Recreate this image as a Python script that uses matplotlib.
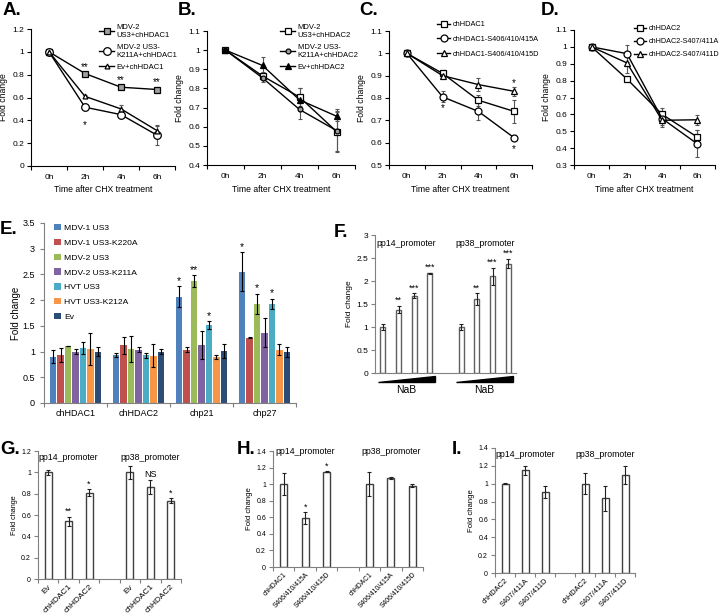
import numpy as np
import matplotlib.pyplot as plt
import matplotlib.transforms as mtransforms

plt.rcParams['font.family'] = ['Liberation Sans', 'DejaVu Sans']
plt.rcParams['font.size'] = 6
plt.rcParams['axes.linewidth'] = 0.8

W, H = 720, 614
fig = plt.figure(figsize=(7.2, 6.14), dpi=100)


def box(l, t, r, b):
    return fig.add_axes([l / W, 1 - b / H, (r - l) / W, (b - t) / H])


def fx(px):
    return px / W


def fy(py):
    return 1 - py / H


times = ['0h', '2h', '4h', '6h']

# ---- A ----
a_lbl = ['MDV-2\nUS3+chHDAC1', 'MDV-2 US3-\nK211A+chHDAC1', 'Ev+chHDAC1']
a_val = [[1, 0.81, 0.69, 0.67], [1, 0.515, 0.45, 0.27], [1, 0.61, 0.50, 0.31]]
a_err = [[0.01, 0.015, 0.015, 0.02], [0.01, 0.015, 0.02, 0.09], [0.01, 0.015, 0.035, 0.04]]
a_up = ['', '**', '**', '**']
a_dn = ['', '*', '', '']

# ---- B ----
b_lbl = ['MDV-2\nUS3+chHDAC2', 'MDV-2 US3-\nK211A+chHDAC2', 'Ev+chHDAC2']
b_val = [[1, 0.865, 0.755, 0.575], [1, 0.855, 0.69, 0.58], [1, 0.92, 0.74, 0.655]]
b_err = [[0.005, 0.02, 0.045, 0.1], [0.005, 0.02, 0.05, 0.11], [0.005, 0.045, 0.06, 0.025]]

# ---- C ----
c_lbl = ['chHDAC1', 'chHDAC1-S406/410/415A', 'chHDAC1-S406/410/415D']
c_val = [[1, 0.91, 0.79, 0.74], [1, 0.805, 0.74, 0.622], [1, 0.9, 0.86, 0.83]]
c_err = [[0.005, 0.015, 0.025, 0.05], [0.005, 0.025, 0.04, 0.012], [0.005, 0.01, 0.03, 0.02]]
c_up = ['', '', '', '*']
c_dn = ['', '*', '', '*']

# ---- D ----
d_lbl = ['chHDAC2', 'chHDAC2-S407/411A', 'chHDAC2-S407/411D']
d_val = [[1, 0.81, 0.6, 0.465], [1, 0.96, 0.575, 0.425], [1, 0.905, 0.565, 0.568]]
d_err = [[0.005, 0.01, 0.04, 0.04], [0.005, 0.05, 0.04, 0.08], [0.005, 0.06, 0.04, 0.03]]

# ---- E ----
e_genes = ['chHDAC1', 'chHDAC2', 'chp21', 'chp27']
e_lbl = ['MDV-1 US3', 'MDV-1 US3-K220A', 'MDV-2 US3', 'MDV-2 US3-K211A',
         'HVT US3', 'HVT US3-K212A', 'Ev']
e_col = ['#4F81BD', '#C0504D', '#9BBB59', '#8064A2', '#4BACC6', '#F79646', '#2C4D75']
e_val = [[0.90, 0.93, 2.07, 2.55],
         [0.93, 1.12, 1.04, 1.27],
         [1.11, 1.05, 2.37, 1.93],
         [1.00, 1.04, 1.13, 1.37],
         [1.07, 0.93, 1.51, 1.93],
         [1.05, 0.92, 0.90, 1.04],
         [1.00, 1.00, 1.01, 0.99]]
e_err = [[0.13, 0.04, 0.20, 0.38],
         [0.14, 0.16, 0.05, 0.01],
         [0.00, 0.25, 0.11, 0.19],
         [0.05, 0.05, 0.27, 0.28],
         [0.11, 0.05, 0.08, 0.10],
         [0.31, 0.22, 0.04, 0.10],
         [0.09, 0.05, 0.14, 0.10]]
e_star = [['', '', '*', '*'], ['', '', '', ''], ['', '', '**', '*'], ['', '', '', ''],
          ['', '', '*', '*'], ['', '', '', ''], ['', '', '', '']]

# ---- F ----
f_groups = ['pp14_promoter', 'pp38_promoter']
f_val = [[1.0, 1.38, 1.68, 2.17], [1.0, 1.6, 2.1, 2.38]]
f_err = [[0.07, 0.08, 0.05, 0.01], [0.07, 0.13, 0.18, 0.1]]
f_star = [['', '**', '***', '***'], ['', '**', '***', '***']]

# ---- G ----
g_cat = ['Ev', 'chHDAC1', 'chHDAC2']
g_val = [[1.0, 0.54, 0.81], [1.0, 0.865, 0.735]]
g_err = [[0.025, 0.04, 0.03], [0.06, 0.065, 0.02]]
g_star = [['', '**', '*'], ['', 'NS', '*']]

# ---- H ----
h_cat = ['chHDAC1', 'S406/410/415A', 'S406/410/415D']
h_val = [[1.0, 0.59, 1.15], [1.0, 1.07, 0.98]]
h_err = [[0.13, 0.07, 0.005], [0.145, 0.012, 0.02]]
h_star = [['', '*', '*'], ['', '', '']]

# ---- I ----
i_cat = ['chHDAC2', 'S407/411A', 'S407/411D']
i_val = [[1.0, 1.15, 0.91], [1.0, 0.84, 1.1]]
i_err = [[0.005, 0.05, 0.07], [0.12, 0.14, 0.1]]


def line_panel(ax, vals, errs, labels, faces, sizes, ylim, yt, leg_xy, up=None, dn=None,
               up_i=0, dn_i=1, up_off=4, dn_off=-10, leg_fs=5.5, leg_sp=0.6, leg_hl=2.0):
    x = np.arange(4)
    marks = ['s', 'o', '^']
    for k in range(3):
        ax.errorbar(x, vals[k], yerr=errs[k], color='#555555', fmt='none', lw=0.8,
                    capsize=1.5, capthick=0.8, zorder=2)
        ax.plot(x, vals[k], color='black', lw=1, marker=marks[k], ms=sizes[k],
                mfc=faces[k], mec='black', mew=0.9, label=labels[k], zorder=3)
    if up:
        for i, t in enumerate(up):
            if t:
                ax.annotate(t, (i, vals[up_i][i]), xytext=(0, up_off), textcoords='offset points',
                            ha='center', va='center', fontsize=7)
    if dn:
        for i, t in enumerate(dn):
            if t:
                ax.annotate(t, (i, vals[dn_i][i]), xytext=(0, dn_off), textcoords='offset points',
                            ha='center', va='center', fontsize=7)
    ax.set_xlim(-0.5, 3.5)
    ax.set_ylim(*ylim)
    ax.set_yticks(yt)
    ax.set_yticklabels([('%g' % v) for v in yt])
    ax.set_xticks(x)
    ax.set_xticklabels(times)
    ax.set_xticks(np.arange(-0.5, 4, 1), minor=True)
    ax.tick_params(axis='x', which='major', length=0, pad=6, labelsize=6)
    ax.tick_params(axis='x', which='minor', length=3, width=0.8)
    ax.tick_params(axis='y', length=3, width=0.8, pad=2, labelsize=6)
    for s in ['top', 'right']:
        ax.spines[s].set_visible(False)
    ax.set_xlabel('Time after CHX treatment', fontsize=6.2, labelpad=3)
    ax.set_ylabel('Fold change', fontsize=6.2, labelpad=3)
    ax.legend(loc='upper left', bbox_to_anchor=(fx(leg_xy[0]), fy(leg_xy[1])),
              bbox_transform=fig.transFigure, frameon=False, fontsize=leg_fs,
              handlelength=leg_hl, handletextpad=0.3, labelspacing=leg_sp, borderpad=0,
              borderaxespad=0)


axA = box(31, 29, 175, 166)
line_panel(axA, a_val, a_err, a_lbl, ['#a0a0a0', 'white', 'white'], [4.5, 5.5, 3.5],
           (0, 1.2), np.arange(0, 1.21, 0.2), (99, 24), up=a_up, dn=a_dn, up_off=5, dn_off=-13)

axB = box(207, 31, 355, 165)
line_panel(axB, b_val, b_err, b_lbl, ['white', '#a0a0a0', 'black'], [5, 3.5, 4],
           (0.4, 1.1), np.arange(0.4, 1.11, 0.1), (280, 24))

axC = box(389, 31, 532, 165)
line_panel(axC, c_val, c_err, c_lbl, ['white', 'white', 'white'], [5, 5, 4],
           (0.5, 1.1), np.arange(0.5, 1.11, 0.1), (437, 21), up=c_up, dn=c_dn,
           up_i=2, dn_i=1, up_off=6, dn_off=-8, leg_fs=5.3, leg_sp=1.05, leg_hl=1.8)

axD = box(574, 30, 715, 165)
line_panel(axD, d_val, d_err, d_lbl, ['white', 'white', 'white'], [5, 5, 4],
           (0.3, 1.1), np.arange(0.3, 1.11, 0.1), (634, 25), leg_fs=5.2, leg_sp=0.85,
           leg_hl=1.7)

# ---- E bars ----
axE = box(44, 223, 296, 403)
step = 0.119
xg = np.arange(4)
for k in range(7):
    xs = xg + (k - 3) * step
    ax = axE
    ax.bar(xs, e_val[k], width=step * 0.9, color=e_col[k], label=e_lbl[k], zorder=2)
    ax.errorbar(xs, e_val[k], yerr=e_err[k], fmt='none', ecolor='black', lw=0.8,
                capsize=1.5, capthick=0.8, zorder=3)
    for j in range(4):
        if e_star[k][j]:
            ax.annotate(e_star[k][j], (xs[j], e_val[k][j] + e_err[k][j]), xytext=(0, 4),
                        textcoords='offset points', ha='center', va='center', fontsize=7.5)
axE.set_xlim(-0.5, 3.5)
axE.set_ylim(0, 3.5)
axE.set_yticks(np.arange(0, 3.51, 0.5))
axE.set_yticklabels(['%g' % v for v in np.arange(0, 3.51, 0.5)])
axE.set_xticks(xg)
axE.set_xticklabels(e_genes)
axE.set_xticks(np.arange(-0.5, 4, 1), minor=True)
axE.tick_params(axis='x', which='major', length=0, pad=4, labelsize=6.5)
axE.tick_params(axis='x', which='minor', length=3, width=0.8, color='#808080')
axE.tick_params(axis='y', length=3, width=0.8, color='#808080', labelsize=6.5)
for s in ['top', 'right']:
    axE.spines[s].set_visible(False)
for s in ['left', 'bottom']:
    axE.spines[s].set_color('#808080')
axE.set_ylabel('Fold change', fontsize=7, labelpad=1)
axE.legend(loc='upper left', bbox_to_anchor=(fx(54), fy(224)), bbox_transform=fig.transFigure,
           frameon=False, fontsize=6.1, handlelength=0.8, handleheight=0.8, handletextpad=0.4,
           labelspacing=0.78, borderpad=0, borderaxespad=0)


def group_bars(ax, vals, errs, stars, width, ylim, yt, title_y, cats=None, cat_fs=6,
               tick_fs=5, lab_fs=5.5, edge='#404040'):
    pos = [np.arange(len(vals[0])), np.arange(len(vals[0])) + len(vals[0]) + 1]
    n = 2 * len(vals[0]) + 1
    for g in range(2):
        ax.bar(pos[g], vals[g], width=width, color='white', edgecolor=edge, lw=1, zorder=2)
        ax.errorbar(pos[g], vals[g], yerr=errs[g], fmt='none', ecolor='#202020', lw=0.8,
                    capsize=1.5, capthick=0.8, zorder=3)
        if stars:
            for j, t in enumerate(stars[g]):
                if t:
                    ax.annotate(t, (pos[g][j], vals[g][j] + errs[g][j]), xytext=(0, 4),
                                textcoords='offset points', ha='center', va='center',
                                fontsize=6.5)
        ax.text(pos[g].mean(), title_y, f_groups[g], transform=mtransforms.blended_transform_factory(
            ax.transData, ax.transAxes), ha='center', va='center', fontsize=6.3)
    ax.set_xlim(-0.5, n - 0.5)
    ax.set_ylim(*ylim)
    ax.set_yticks(yt)
    ax.set_yticklabels(['%g' % v for v in yt])
    ax.tick_params(axis='y', length=3, width=0.8, color='#808080', labelsize=tick_fs, pad=2)
    for s in ['top', 'right']:
        ax.spines[s].set_visible(False)
    for s in ['left', 'bottom']:
        ax.spines[s].set_color('#808080')
    ax.set_ylabel('Fold change', fontsize=lab_fs, labelpad=2)
    if cats:
        ax.set_xticks(np.concatenate(pos))
        ax.set_xticklabels(cats * 2, rotation=45, ha='right', rotation_mode='anchor')
        ax.set_xticks(np.arange(-0.5, n, 1), minor=True)
        ax.tick_params(axis='x', which='major', length=0, pad=3, labelsize=cat_fs)
        ax.tick_params(axis='x', which='minor', length=3, width=0.8, color='#808080')
    else:
        ax.set_xticks([])
    return pos


axF = box(375, 235, 516, 373)
posF = group_bars(axF, f_val, f_err, f_star, 0.33, (0, 3), np.arange(0, 3.01, 0.5), 0.94,
                  tick_fs=6, lab_fs=6, edge='#606060')
trF = mtransforms.blended_transform_factory(axF.transData, axF.transAxes)
for g in range(2):
    x0 = posF[g][0] - 0.3
    x1 = posF[g][-1] + 0.3
    axF.fill([x0, x1, x1], [-0.065, -0.065, -0.025], color='black', transform=trF, clip_on=False)
    axF.text(posF[g].mean(), -0.125, 'NaB', transform=trF, ha='center', va='center', fontsize=7.5)

axG = box(38, 451, 181, 579)
group_bars(axG, g_val, g_err, g_star, 0.34, (0, 1.2), np.arange(0, 1.21, 0.2), 0.95, cats=g_cat,
           cat_fs=6, tick_fs=5, lab_fs=5.2)

axH = box(273, 451, 423, 567)
group_bars(axH, h_val, h_err, h_star, 0.33, (0, 1.4), np.arange(0, 1.41, 0.2), 1.0, cats=h_cat,
           cat_fs=4.9, tick_fs=5, lab_fs=5.6)

axI = box(495, 448, 635, 573)
group_bars(axI, i_val, i_err, None, 0.35, (0, 1.4), np.arange(0, 1.41, 0.2), 0.95, cats=i_cat,
           cat_fs=5.4, tick_fs=5, lab_fs=5.6)

# panel letters
letters = [('A.', 3, 2), ('B.', 178, 2), ('C.', 359, 2), ('D.', 541, 2), ('E.', 0, 221),
           ('F.', 334, 224), ('G.', 0, 441), ('H.', 237, 441), ('I.', 452, 441)]
for t, x, y in letters:
    fig.text(fx(x), fy(y), t, fontsize=13.5, fontweight='bold', ha='left', va='top')

plt.savefig('out.png', dpi=100)
